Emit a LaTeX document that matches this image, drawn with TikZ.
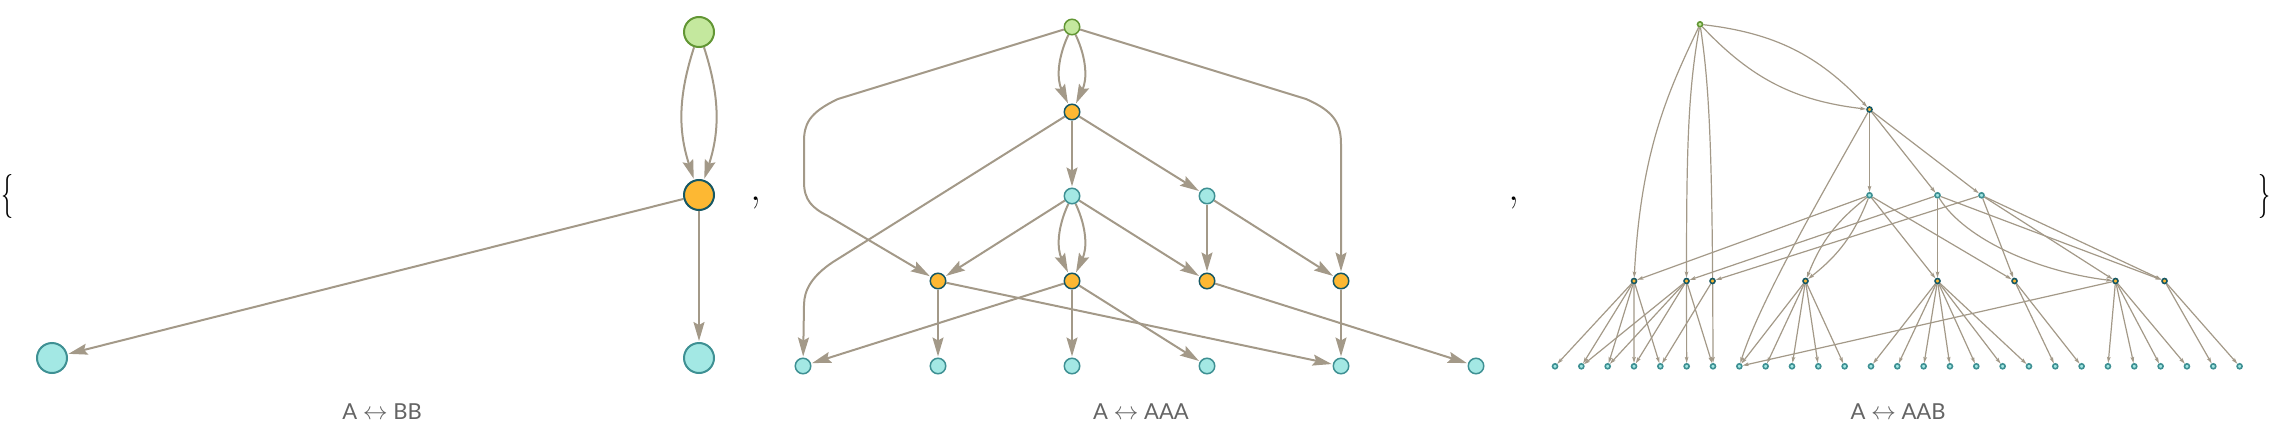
\documentclass[tikz,border=0pt]{standalone}
\usepackage{fontspec}
\newfontfamily\capfont{Lato}
\usetikzlibrary{arrows.meta,backgrounds}

\definecolor{linkgray}{RGB}{163,153,136}
\definecolor{initfill}{RGB}{196,232,158}
\definecolor{initline}{RGB}{98,150,52}
\definecolor{eventfill}{RGB}{253,184,51}
\definecolor{eventline}{RGB}{22,88,100}
\definecolor{leaffill}{RGB}{163,232,228}
\definecolor{leafline}{RGB}{62,144,147}
\definecolor{capgray}{RGB}{100,100,100}

\newcommand{\twoway}{{\fontsize{27}{27}\selectfont$\leftrightarrow$}}

\begin{document}
\begin{tikzpicture}[
		x=1pt, y=-1pt,
		bigdot/.style={circle, inner sep=0pt, minimum size=30pt, line width=2pt},
		middot/.style={circle, inner sep=0pt, minimum size=15.5pt, line width=1.5pt},
		smalldot/.style={circle, inner sep=0pt, minimum size=5pt, line width=1.6pt},
		init/.style={draw=initline, fill=initfill},
		event/.style={draw=eventline, fill=eventfill},
		leaf/.style={draw=leafline, fill=leaffill},
		link/.style={draw=linkgray, line width=2pt, -{Stealth[length=19pt,width=11pt,inset=3pt]}, shorten >=1pt},
		flink/.style={draw=linkgray, line width=1.2pt, -{Stealth[length=6pt,width=3.5pt,inset=1pt]}},
		caption/.style={font=\capfont\fontsize{22}{26}\selectfont, text=capgray, anchor=base},
		bracket/.style={font=\fontsize{44}{48}\selectfont, anchor=base, inner sep=0pt}
		]
		\useasboundingbox (0,0) rectangle (2274,428);

		% A <-> BB
		\node[bigdot,init] (bi) at (699,32) {};
		\node[bigdot,event] (be) at (699,195) {};
		\node[bigdot,leaf] (bl) at (52,358) {};
		\node[bigdot,leaf] (br) at (699,358) {};

		% A <-> AAA
		\node[middot,init] (ai) at (1072,27) {};
		\node[middot,event] (ae) at (1072,112) {};
		\node[middot,leaf] (ac1) at (1072,196) {};
		\node[middot,leaf] (ac2) at (1207,196) {};
		\foreach \x [count=\k] in {938,1072,1207,1341}
			\node[middot,event] (ao\k) at (\x,281) {};
		\foreach \x [count=\k] in {803,938,1072,1207,1341,1476}
			\node[middot,leaf] (aw\k) at (\x,366) {};

		% A <-> AAB
		\node[smalldot,init] (ci) at (1700,24.3) {};
		\node[smalldot,event] (ce) at (1869.5,109.5) {};
		\foreach \x [count=\k] in {1869.5,1937.5,1981.5}
			\node[smalldot,leaf] (cc\k) at (\x,195.3) {};
		\foreach \x [count=\k] in {1634,1686.5,1712.5,1805.5,1937.5,2014.5,2115.5,2164.5}
			\node[smalldot,event] (co\k) at (\x,281) {};
		\foreach \i in {0,...,26}
			\node[smalldot,leaf] (cw\i) at ({1555+26.33*\i},366.3) {};

		\begin{scope}[on background layer]
			\draw[link] (bi) to[bend left=18] (be);
			\draw[link] (bi) to[bend right=18] (be);
			\draw[link] (be) -- (bl);
			\draw[link] (be) -- (br);

			\draw[link] (ai) to[bend left=25] (ae);
			\draw[link] (ai) to[bend right=25] (ae);
			\draw[link] (ai) -- (838,99) .. controls (808,113) and (804,125) .. (804,142)
				-- (804,182) .. controls (804,200) and (812,208) .. (828,216) -- (ao1);
			\draw[link] (ai) -- (1306,99) .. controls (1336,112) and (1341,125) .. (1341,145) -- (ao4);
			\draw[link] (ae) -- (ac1);
			\draw[link] (ae) -- (ac2);
			\draw[link] (ae) -- (833,262) .. controls (812,276) and (804,290) .. (804,305) -- (aw1);
			\draw[link] (ac1) -- (ao1);
			\draw[link] (ac1) to[bend left=25] (ao2);
			\draw[link] (ac1) to[bend right=25] (ao2);
			\draw[link] (ac1) -- (ao3);
			\draw[link] (ac2) -- (ao3);
			\draw[link] (ac2) -- (ao4);
			\draw[link] (ao1) -- (aw2);
			\draw[link] (ao1) -- (aw5);
			\foreach \j in {1,3,4}
				\draw[link] (ao2) -- (aw\j);
			\draw[link] (ao3) -- (aw6);
			\draw[link] (ao4) -- (aw5);

			\draw[flink] (ci) to[bend left=20] (ce);
			\draw[flink] (ci) to[bend right=20] (ce);
			\draw[flink] (ci) .. controls (1668,92) and (1641,150) .. (co1);
			\draw[flink] (ci) .. controls (1688,90) and (1686.5,150) .. (co2);
			\draw[flink] (ci) .. controls (1710,90) and (1712.5,160) .. (cw6);
			\foreach \k in {1,2,3}
				\draw[flink] (ce) -- (cc\k);
			\draw[flink] (ce) .. controls (1830,180) and (1760,300) .. (cw7);
			\foreach \k in {1,5,6}
				\draw[flink] (cc1) -- (co\k);
			\draw[flink] (cc1) to[bend left=15] (co4);
			\draw[flink] (cc1) to[bend right=15] (co4);
			\foreach \k in {2,5,8}
				\draw[flink] (cc2) -- (co\k);
			\draw[flink] (cc2) .. controls (1965,240) and (2040,272) .. (co7);
			\foreach \k in {3,6,7,8}
				\draw[flink] (cc3) -- (co\k);
			\foreach \j in {0,...,4}
				\draw[flink] (co1) -- (cw\j);
			\foreach \j in {1,2,3,5,6}
				\draw[flink] (co2) -- (cw\j);
			\draw[flink] (co3) -- (cw4);
			\foreach \j in {7,...,11}
				\draw[flink] (co4) -- (cw\j);
			\foreach \j in {12,...,18}
				\draw[flink] (co5) -- (cw\j);
			\foreach \j in {19,20}
				\draw[flink] (co6) -- (cw\j);
			\foreach \j in {7,21,22,23,24}
				\draw[flink] (co7) -- (cw\j);
			\foreach \j in {25,26}
				\draw[flink] (co8) -- (cw\j);
		\end{scope}

		\node[caption] (capbb) at (382,419) {A \twoway{} BB};
		\node[caption] (capaaa) at (1141,419) {A \twoway{} AAA};
		\node[caption] (capaab) at (1898,419) {A \twoway{} AAB};

		\node[bracket] (lbrace) at (8,207) {\scalebox{0.55}[1]{\{}};
		\node[bracket] (comma1) at (756,200) {,};
		\node[bracket] (comma2) at (1514,200) {,};
		\node[bracket] (rbrace) at (2265,207) {\scalebox{0.55}[1]{\}}};
	\end{tikzpicture}
\end{document}
